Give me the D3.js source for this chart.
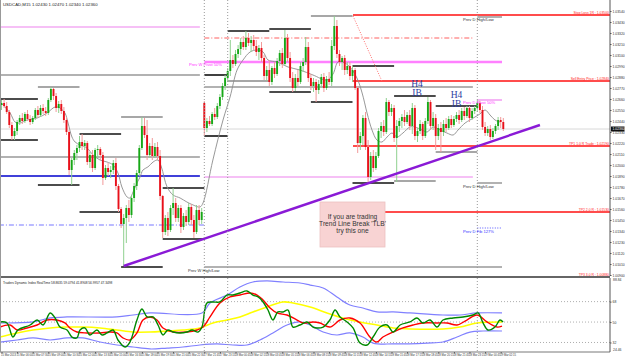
<!DOCTYPE html>
<html><head><meta charset="utf-8">
<script src="https://cdn.jsdelivr.net/npm/d3@7"></script>
<style>html,body{margin:0;padding:0;background:#fff;overflow:hidden}text{font-family:"Liberation Sans",Arial,sans-serif}</style>
</head><body><svg id="c" width="625" height="359"></svg>
<script>
// ---------- DATA ----------
const open=[1.0260,1.0262,1.0259,1.0253,1.0240,1.0229,1.0234,1.0243,1.0247,1.0244,1.0251,1.0246,1.0243,1.0247,1.0255,1.0250,1.0257,1.0254,1.0252,1.0265,1.0276,1.0269,1.0257,1.0261,1.0254,1.0245,1.0233,1.0195,1.0205,1.0212,1.0217,1.0223,1.0219,1.0222,1.0203,1.0210,1.0197,1.0215,1.0216,1.0210,1.0187,1.0197,1.0193,1.0195,1.0202,1.0179,1.0156,1.0141,1.0147,1.0157,1.0150,1.0167,1.0179,1.0192,1.0217,1.0239,1.0230,1.0210,1.0219,1.0209,1.0218,1.0209,1.0169,1.0133,1.0147,1.0135,1.0157,1.0162,1.0147,1.0157,1.0138,1.0149,1.0143,1.0158,1.0145,1.0133,1.0155,1.0145,1.0262,1.0237,1.0244,1.0241,1.0251,1.0248,1.0259,1.0268,1.0279,1.0287,1.0294,1.0305,1.0301,1.0311,1.0316,1.0323,1.0318,1.0327,1.0322,1.0325,1.0319,1.0313,1.0317,1.0307,1.0289,1.0295,1.0283,1.0297,1.0291,1.0304,1.0312,1.0301,1.0327,1.0307,1.0287,1.0277,1.0287,1.0283,1.0299,1.0303,1.0318,1.0287,1.0279,1.0283,1.0275,1.0281,1.0288,1.0277,1.0286,1.0283,1.0319,1.0339,1.0311,1.0303,1.0307,1.0295,1.0299,1.0289,1.0295,1.0277,1.0222,1.0229,1.0247,1.0218,1.0188,1.0209,1.0197,1.0209,1.0234,1.0239,1.0233,1.0263,1.0253,1.0257,1.0227,1.0239,1.0244,1.0248,1.0243,1.0250,1.0239,1.0257,1.0229,1.0234,1.0241,1.0229,1.0244,1.0263,1.0239,1.0247,1.0229,1.0237,1.0233,1.0241,1.0237,1.0246,1.0240,1.0246,1.0250,1.0245,1.0254,1.0249,1.0257,1.0247,1.0254,1.0257,1.0262,1.0255,1.0238,1.0232,1.0236,1.0228,1.0234,1.0239,1.0245,1.0243];
const high=[1.0265,1.0266,1.0263,1.0255,1.0243,1.0237,1.0245,1.0250,1.0252,1.0253,1.0255,1.0250,1.0249,1.0257,1.0259,1.0260,1.0261,1.0258,1.0267,1.0278,1.0277,1.0272,1.0264,1.0265,1.0258,1.0248,1.0235,1.0207,1.0215,1.0220,1.0229,1.0231,1.0225,1.0224,1.0213,1.0215,1.0217,1.0220,1.0218,1.0213,1.0200,1.0202,1.0199,1.0205,1.0207,1.0181,1.0158,1.0151,1.0160,1.0165,1.0170,1.0182,1.0195,1.0220,1.0248,1.0247,1.0245,1.0222,1.0227,1.0222,1.0223,1.0215,1.0170,1.0150,1.0153,1.0160,1.0177,1.0167,1.0160,1.0160,1.0152,1.0155,1.0162,1.0161,1.0150,1.0160,1.0160,1.0157,1.0264,1.0247,1.0249,1.0253,1.0257,1.0262,1.0271,1.0282,1.0290,1.0297,1.0325,1.0310,1.0315,1.0320,1.0327,1.0329,1.0334,1.0332,1.0329,1.0330,1.0325,1.0320,1.0323,1.0310,1.0299,1.0305,1.0299,1.0303,1.0307,1.0315,1.0317,1.0335,1.0331,1.0313,1.0293,1.0291,1.0295,1.0303,1.0307,1.0328,1.0323,1.0291,1.0287,1.0286,1.0285,1.0291,1.0292,1.0289,1.0293,1.0325,1.0349,1.0345,1.0315,1.0309,1.0310,1.0303,1.0303,1.0299,1.0297,1.0279,1.0233,1.0250,1.0253,1.0225,1.0213,1.0215,1.0213,1.0237,1.0243,1.0245,1.0267,1.0265,1.0261,1.0260,1.0245,1.0247,1.0251,1.0255,1.0253,1.0255,1.0262,1.0260,1.0237,1.0245,1.0243,1.0247,1.0268,1.0265,1.0253,1.0251,1.0241,1.0243,1.0245,1.0247,1.0249,1.0250,1.0249,1.0253,1.0255,1.0257,1.0258,1.0259,1.0259,1.0257,1.0259,1.0265,1.0264,1.0259,1.0243,1.0239,1.0240,1.0237,1.0241,1.0248,1.0248,1.0247];
const low=[1.0255,1.0257,1.0251,1.0237,1.0225,1.0225,1.0230,1.0240,1.0241,1.0242,1.0244,1.0240,1.0241,1.0245,1.0247,1.0248,1.0251,1.0249,1.0250,1.0263,1.0265,1.0253,1.0252,1.0251,1.0242,1.0230,1.0190,1.0180,1.0200,1.0205,1.0213,1.0215,1.0215,1.0200,1.0197,1.0193,1.0195,1.0207,1.0205,1.0180,1.0185,1.0189,1.0187,1.0191,1.0175,1.0153,1.0137,1.0099,1.0122,1.0143,1.0147,1.0163,1.0175,1.0189,1.0215,1.0227,1.0205,1.0207,1.0205,1.0207,1.0205,1.0165,1.0127,1.0130,1.0129,1.0133,1.0150,1.0143,1.0143,1.0132,1.0135,1.0139,1.0140,1.0140,1.0127,1.0131,1.0140,1.0141,1.0229,1.0233,1.0239,1.0239,1.0245,1.0246,1.0256,1.0265,1.0275,1.0283,1.0289,1.0297,1.0299,1.0307,1.0310,1.0315,1.0315,1.0319,1.0313,1.0315,1.0309,1.0305,1.0303,1.0285,1.0284,1.0279,1.0280,1.0287,1.0289,1.0299,1.0297,1.0299,1.0303,1.0283,1.0273,1.0274,1.0279,1.0281,1.0293,1.0300,1.0283,1.0275,1.0273,1.0263,1.0271,1.0277,1.0273,1.0275,1.0280,1.0279,1.0315,1.0307,1.0299,1.0295,1.0290,1.0291,1.0285,1.0283,1.0275,1.0212,1.0215,1.0220,1.0215,1.0182,1.0185,1.0193,1.0195,1.0207,1.0227,1.0229,1.0231,1.0249,1.0249,1.0223,1.0183,1.0233,1.0237,1.0239,1.0241,1.0235,1.0231,1.0225,1.0223,1.0231,1.0225,1.0227,1.0241,1.0235,1.0235,1.0215,1.0225,1.0213,1.0229,1.0233,1.0235,1.0237,1.0238,1.0243,1.0241,1.0243,1.0245,1.0247,1.0243,1.0245,1.0251,1.0253,1.0252,1.0235,1.0229,1.0229,1.0225,1.0226,1.0231,1.0235,1.0237,1.0234];
const close=[1.0262,1.0259,1.0253,1.0240,1.0229,1.0234,1.0243,1.0247,1.0244,1.0251,1.0246,1.0243,1.0247,1.0255,1.0250,1.0257,1.0254,1.0252,1.0265,1.0276,1.0269,1.0257,1.0261,1.0254,1.0245,1.0233,1.0195,1.0205,1.0212,1.0217,1.0223,1.0219,1.0222,1.0203,1.0210,1.0197,1.0215,1.0216,1.0210,1.0187,1.0197,1.0193,1.0195,1.0202,1.0179,1.0156,1.0141,1.0147,1.0157,1.0150,1.0167,1.0179,1.0192,1.0217,1.0239,1.0230,1.0210,1.0219,1.0209,1.0218,1.0209,1.0169,1.0133,1.0147,1.0135,1.0157,1.0162,1.0147,1.0157,1.0138,1.0149,1.0143,1.0158,1.0145,1.0133,1.0155,1.0145,1.0153,1.0237,1.0244,1.0241,1.0251,1.0248,1.0259,1.0268,1.0279,1.0287,1.0294,1.0305,1.0301,1.0311,1.0316,1.0323,1.0318,1.0327,1.0322,1.0325,1.0319,1.0313,1.0317,1.0307,1.0289,1.0295,1.0283,1.0297,1.0291,1.0304,1.0312,1.0301,1.0327,1.0307,1.0287,1.0277,1.0287,1.0283,1.0299,1.0303,1.0318,1.0287,1.0279,1.0283,1.0275,1.0281,1.0288,1.0277,1.0286,1.0283,1.0319,1.0339,1.0311,1.0303,1.0307,1.0295,1.0299,1.0289,1.0295,1.0277,1.0222,1.0229,1.0247,1.0218,1.0188,1.0209,1.0197,1.0209,1.0234,1.0239,1.0233,1.0263,1.0253,1.0257,1.0227,1.0239,1.0244,1.0248,1.0243,1.0250,1.0239,1.0257,1.0229,1.0234,1.0241,1.0229,1.0244,1.0263,1.0239,1.0247,1.0229,1.0237,1.0233,1.0241,1.0237,1.0246,1.0240,1.0246,1.0250,1.0245,1.0254,1.0249,1.0257,1.0247,1.0254,1.0257,1.0262,1.0255,1.0238,1.0232,1.0236,1.0228,1.0234,1.0239,1.0245,1.0243,1.0236];

const maLine=[[-0.6,1.0263],[3.3,1.0252],[5.2,1.0243],[7.1,1.0242],[9.8,1.0245],[13.7,1.0247],[17.5,1.0252],[20.6,1.0258],[22.5,1.0257],[24.4,1.0252],[25.6,1.0242],[27.1,1.0228],[28.3,1.0223],[30.2,1.0220],[32.9,1.0217],[35.2,1.0210],[37.9,1.0205],[40.6,1.0203],[42.9,1.0200],[44.8,1.0192],[46.3,1.0178],[48.3,1.0168],[49.4,1.0167],[50.6,1.0173],[52.1,1.0182],[53.3,1.0188],[54.4,1.0195],[56.3,1.0198],[58.3,1.0203],[60.2,1.0205],[61.5,1.0198],[63.7,1.0178],[66,1.0170],[68.7,1.0167],[71.3,1.0163],[73.7,1.0160],[76.3,1.0158],[77.5,1.0162],[81.3,1.0205],[85.2,1.0245],[87.9,1.0268],[90.6,1.0295],[92.9,1.0305],[95.6,1.0313],[98.3,1.0315],[100.6,1.0313],[102.5,1.0305],[106,1.0303],[110.2,1.0298],[114.8,1.0295],[119.8,1.0290],[125.2,1.0285],[127.5,1.0291],[129.4,1.0303],[131.3,1.0303],[134,1.0298],[136.7,1.0287],[138.7,1.0272],[140.6,1.0252],[142.5,1.0235],[144.4,1.0225],[146.3,1.0223],[148.3,1.0228],[150.2,1.0232],[152.1,1.0228],[154.4,1.0232],[157.1,1.0238],[159,1.0238],[161.7,1.0235],[163.7,1.0233],[166,1.0238],[168.7,1.0235],[171.3,1.0232],[173.7,1.0230],[175.6,1.0235],[178.3,1.0242],[180.2,1.0245],[182.1,1.0248],[184,1.0251],[186,1.0255],[187.9,1.0250],[189.8,1.0245],[191.7,1.0243]];

const trendLine=[[47,1.0099],[207.1,1.0240]];

// H4 block ranges (bar index) and their high / low levels
const h4Start=[-2,14,30,46,62,78,87,103,119,135,151,167];
const h4End=[14,30,46,62,78,87,103,119,135,151,167,183];
const h4High=[1.0266,1.0278,1.0231,1.0248,1.0177,1.0290,1.0334,1.0336,1.0349,1.0299,1.0269,1.0259];
const h4Low=[1.0225,1.0180,1.0153,1.0098,1.0126,1.0229,1.0284,1.0273,1.0263,1.0182,1.0184,1.0213];

// reference levels: price, from bar, to bar, kind
const levelPrice=[1.0338,1.0290,1.0208,1.0189,1.0140,1.0327,1.0278,1.0188,1.0303,1.0098,1.0348,1.0265,1.0182,1.0137];
const levelFrom=[-1,-1,-1,-1,-1,78,78,78,78,78,183,183,183,183];
const levelTo=[76.3,76.3,76.3,76.3,78,181.3,181.3,181.3,192.5,192.5,192.5,192.5,192.5,192.5];
const levelKind=["pink","gray","gray","blue","blueDashDot","redDashDot","gray","pink","pinkThick","gray","gray","pink","gray","blueDot"];

// trade plan levels
const tradePrice=[1.0350,1.0284,1.0219,1.0153,1.0088];
const tradeLabel=["Stop Loss 1R : 1.03500","Sell Entry Price : 1.02840","TP1 1.0 R Trade : 1.02190","TP2 2.0 R : 1.01530","TP3 3.0 R : 1.00880"];
const tradeFrom=135.2;
const slPath=[[135.2,1.0349],[146.3,1.0284]];

const separators=[78,87,183];
const boxBars=[122.5,147.5], boxPrices=[1.0163,1.0118];
const boxText=["If you are trading","Trend Line Break 'TLB'","try this one"];

const noteText=["Prev W Pivot 50%","Prev W High/Low","Prev D High/Low","Prev D Pivot 50%","Prev D High/Low","Prev D Fib 127%"];
const noteBar=[72.1,71.7,177.5,177.5,177.5,177.5];
const notePrice=[1.0301,1.0095,1.0346,1.0263,1.0179,1.0134];
const noteKind=["pink","dark","dark","pink","dark","blue"];

const ibText=["H4","IB","H4","IB"];
const ibBar=[159.8,159.8,175,175];
const ibPrice=[1.0282,1.0273,1.0271,1.0262];

const priceTicks=[1.0354,1.0343,1.0332,1.0321,1.0310,1.0299,1.0288,1.0277,1.0266,1.0255,1.0244,1.0233,1.0222,1.0211,1.0200,1.0189,1.0178,1.0167,1.0156,1.0145,1.0134,1.0123,1.0112,1.0101,1.0090];
const timeBars=[0,6,12,18,24,30,36,42,48,54,60,66,72,78,84,90,96,102,108,114,120,126,132,138,144,150,156,162,168,174,180,186,192];
const timeLabels=["15 Mar 2013","15 Mar 06:00","15 Mar 07:30","15 Mar 09:00","15 Mar 10:30","15 Mar 12:00","15 Mar 13:30","15 Mar 15:00","15 Mar 16:30","15 Mar 18:00","15 Mar 19:30","15 Mar 21:00","15 Mar 22:30","17 Mar 21:45","17 Mar 23:15","18 Mar 00:45","18 Mar 02:15","18 Mar 03:45","18 Mar 05:15","18 Mar 06:45","18 Mar 08:15","18 Mar 09:45","18 Mar 11:15","18 Mar 12:45","18 Mar 14:15","18 Mar 15:45","18 Mar 17:15","18 Mar 18:45","18 Mar 20:15","18 Mar 21:45","18 Mar 23:15","19 Mar 00:45","19 Mar 02:15"];

// Traders Dynamic Index: [bar, value]
const tdiGreen=[[-0.6,50.1],[2.1,49.2],[4.4,36.8],[6.3,43.0],[11,47.4],[13.7,51.8],[16,47.4],[18.7,58.0],[20.6,53.6],[22.5,45.6],[25.2,43.0],[27.1,36.8],[29,36.0],[30.2,43.0],[32.1,44.8],[34,38.6],[36.7,43.0],[38.7,38.6],[40.6,40.4],[42.9,43.0],[44.8,34.2],[47.5,28.0],[49.4,32.4],[52.1,51.8],[54,61.5],[56,54.5],[58.3,54.5],[60.2,47.4],[62.1,38.6],[64,43.0],[66,41.2],[68.7,40.4],[71.3,41.2],[73.3,43.0],[75.6,41.2],[77.1,45.6],[79,66.8],[81.3,67.7],[84,67.7],[86.7,73.8],[89,73.8],[91.7,75.6],[94.4,77.4],[96.7,73.8],[98.7,72.1],[100.6,67.7],[102.5,60.6],[104.4,51.8],[106.3,58.9],[108.3,58.9],[110.2,60.6],[112.1,45.6],[114.8,47.4],[117.5,50.1],[119.8,45.6],[121.3,44.8],[123.7,45.6],[126.3,51.8],[128.3,60.6],[130.2,54.5],[132.9,50.1],[135.2,44.8],[137.9,31.5],[140.6,29.8],[142.9,36.8],[145.6,45.6],[148.3,47.4],[150.6,41.2],[153.3,47.4],[157.1,50.1],[159.8,53.6],[162.1,49.2],[164.8,51.8],[167.5,45.6],[169.8,51.8],[173.7,53.6],[177.5,54.5],[181.3,56.2],[183.3,58.0],[185.2,49.2],[187.1,43.0],[189.8,45.6],[191.7,51.8],[192.9,50.1]];
const tdiRed=[[-0.6,45.6],[3.3,47.4],[6,43.0],[9.8,44.8],[13.7,47.4],[17.5,51.8],[21.3,51.8],[24.4,49.2],[26.3,44.8],[29,41.2],[32.9,40.4],[37.9,40.4],[41.7,41.2],[44.4,40.4],[46.7,36.0],[49.4,34.2],[52.1,40.4],[54.4,51.8],[57.1,54.5],[59.8,51.8],[62.1,44.8],[66,41.2],[71.3,41.2],[75.2,43.0],[77.5,45.6],[80.2,54.5],[84,66.8],[87.9,72.1],[91.7,73.8],[95.6,75.6],[98.3,73.8],[100.6,69.4],[103.3,62.4],[106,58.0],[109.8,56.2],[113.7,51.8],[116,49.2],[119.8,50.1],[122.5,49.2],[126.3,45.6],[130.2,51.8],[134,53.6],[137.9,49.2],[141.7,36.8],[144.4,32.4],[146.7,36.8],[150.6,41.2],[154.4,44.8],[158.3,47.4],[162.1,49.2],[167.5,49.2],[171.3,49.2],[175.2,47.4],[179,51.8],[182.9,56.2],[186.7,50.1],[190.6,45.6],[192.5,46.5]];
const tdiYellow=[[-0.6,36.8],[6,40.4],[12.1,43.0],[18.7,44.8],[25.2,45.6],[31.3,45.6],[37.9,44.8],[44.4,43.0],[50.6,41.2],[57.1,41.2],[63.7,42.1],[69.8,43.0],[76.3,44.8],[81.3,49.2],[86.7,51.8],[91.7,54.5],[96.7,58.9],[102.1,63.3],[108.3,67.7],[112.1,66.8],[118.7,63.3],[125.2,58.0],[131.3,53.6],[137.9,50.1],[144.4,47.4],[150.6,44.8],[157.1,43.9],[169.8,43.9],[176.3,45.6],[182.9,49.2],[192.5,50.1]];
const tdiUpper=[[-0.6,49.2],[12.1,50.1],[18.7,53.6],[25.2,54.5],[44.4,54.5],[50.6,56.2],[57.1,58.0],[77.1,58.0],[80.2,66.8],[86.7,73.8],[91.7,80.9],[96.7,85.3],[102.1,86.2],[108.3,85.3],[114.8,84.4],[118.7,82.6],[123.7,80.0],[129,72.1],[134,65.0],[139,62.4],[144.4,58.9],[150.6,58.9],[157.1,58.0],[169.8,56.2],[176.3,56.2],[182.9,58.0],[192.5,58.0]];
const tdiLower=[[-0.6,32.4],[6,34.2],[12.1,36.0],[18.7,34.2],[25.2,36.0],[31.3,36.0],[37.9,32.4],[44.4,29.8],[50.6,28.0],[57.1,26.3],[63.7,27.1],[69.8,28.0],[76.3,29.8],[82.9,30.7],[89,29.8],[94.4,29.8],[99.4,34.2],[104.4,40.4],[109.8,47.4],[114.8,50.1],[118.7,47.4],[123.7,41.2],[129,38.6],[134,40.4],[139,36.8],[142.9,31.5],[150.6,30.7],[163.7,31.5],[169.8,32.4],[175.2,36.8],[180.2,41.2],[185.2,42.1],[192.5,42.1]];
const tdiLevels=[68,50,32];
const tdiRangeLabels=["88.84","24.46"];
const tdiRangeVals=[87.0,25.3];

// ---------- DRAW ----------
const svg=d3.select("#c");
const plotR=610, mainBot=276, indTop=278, indBot=352;
const x=d3.scaleLinear().domain([0,1]).range([1.5,4.1]);
const y=d3.scaleLinear().domain([1.0365,1.0091]).range([0,274]);
const yi=d3.scaleLinear().domain([24.5,88.8]).range([351,278]);

svg.append("rect").attr("width",625).attr("height",359).attr("fill","#fff");
const defs=svg.append("defs");
defs.append("clipPath").attr("id","cm").append("rect").attr("x",0).attr("y",0).attr("width",plotR).attr("height",mainBot);
defs.append("clipPath").attr("id","ci").append("rect").attr("x",0).attr("y",indTop).attr("width",plotR).attr("height",indBot-indTop);

const gm=svg.append("g").attr("clip-path","url(#cm)");
const gi=svg.append("g").attr("clip-path","url(#ci)");

// separators
separators.forEach(b=>{
  [[0,mainBot],[indTop,indBot]].forEach(r=>{
    svg.append("line").attr("x1",x(b)).attr("x2",x(b)).attr("y1",r[0]).attr("y2",r[1])
      .attr("stroke","#999").attr("stroke-width",1).attr("stroke-dasharray","1,2");
  });
});

const kindStyle={
  pink:{c:"#ee82ee",w:1.2,d:null},
  pinkThick:{c:"#ff80ff",w:2.5,d:null},
  gray:{c:"#999",w:1.5,d:null},
  blue:{c:"#0000cc",w:1.5,d:null},
  blueDashDot:{c:"#7777ff",w:1,d:"5,2,1,2"},
  blueDot:{c:"#5555ff",w:1,d:"1,1.5"},
  redDashDot:{c:"#ff6060",w:1,d:"5,2,1,2"}
};
// bid line
gm.append("line").attr("x1",0).attr("x2",plotR).attr("y1",y(close[close.length-1])).attr("y2",y(close[close.length-1]))
  .attr("stroke","#d8d8d8").attr("stroke-width",1);

levelPrice.forEach((p,i)=>{
  const s=kindStyle[levelKind[i]];
  gm.append("line").attr("x1",x(levelFrom[i])).attr("x2",x(levelTo[i])).attr("y1",y(p)).attr("y2",y(p))
    .attr("stroke",s.c).attr("stroke-width",s.w).attr("stroke-dasharray",s.d);
});

// H4 lines
const grayHigh=[1,3,8], grayLow=[6,10,11];
h4Start.forEach((s,i)=>{
  gm.append("line").attr("x1",x(s)).attr("x2",x(h4End[i])).attr("y1",y(h4High[i])).attr("y2",y(h4High[i]))
    .attr("stroke",grayHigh.includes(i)?"#8a8a8a":"#111").attr("stroke-width",1.6);
  gm.append("line").attr("x1",x(s)).attr("x2",x(h4End[i])).attr("y1",y(h4Low[i])).attr("y2",y(h4Low[i]))
    .attr("stroke",grayLow.includes(i)?"#8a8a8a":"#111").attr("stroke-width",1.6);
});

// trade levels
tradePrice.forEach(p=>{
  gm.append("line").attr("x1",x(tradeFrom)).attr("x2",plotR).attr("y1",y(p)).attr("y2",y(p))
    .attr("stroke","#ff1010").attr("stroke-width",1.3);
});
gm.append("path").attr("d",d3.line().x(d=>x(d[0])).y(d=>y(d[1]))(slPath))
  .attr("fill","none").attr("stroke","#ff7070").attr("stroke-width",1).attr("stroke-dasharray","1,1.5");

// note box
gm.append("rect").attr("x",x(boxBars[0])).attr("y",y(boxPrices[0]))
  .attr("width",x(boxBars[1])-x(boxBars[0])).attr("height",y(boxPrices[1])-y(boxPrices[0]))
  .attr("fill","#f8d3d3").attr("stroke","#ecc0c0").attr("stroke-width",0.8);
boxText.forEach((t,i)=>{
  gm.append("text").attr("x",(x(boxBars[0])+x(boxBars[1]))/2).attr("y",y(boxPrices[0])+17+i*7.2)
    .attr("text-anchor","middle").attr("font-size",6.6).attr("fill","#333").text(t);
});

// MA
gm.append("path").attr("d",d3.line().curve(d3.curveCatmullRom).x(d=>x(d[0])).y(d=>y(d[1]))(maLine))
  .attr("fill","none").attr("stroke","#8c8c8c").attr("stroke-width",0.9);

// candles
const bars=gm.append("g");
open.forEach((o,i)=>{
  const c=close[i], up=c>=o;
  bars.append("line").attr("x1",x(i)).attr("x2",x(i)).attr("y1",y(high[i])).attr("y2",y(low[i]))
    .attr("stroke",up?"#8fd08f":"#f29a9a").attr("stroke-width",1);
  const top=y(Math.max(o,c)), h=Math.max(1,Math.abs(y(o)-y(c)));
  bars.append("rect").attr("x",x(i)-0.95).attr("y",top).attr("width",1.9).attr("height",h)
    .attr("fill",up?"#17a817":"#e8101a");
});

// trend line
gm.append("path").attr("d",d3.line().x(d=>x(d[0])).y(d=>y(d[1]))(trendLine))
  .attr("fill","none").attr("stroke","#8a1ad6").attr("stroke-width",2.4);

// notes
const noteCol={pink:"#ff33ff",dark:"#333",blue:"#3333ff"};
noteText.forEach((t,i)=>{
  svg.append("text").attr("x",x(noteBar[i])).attr("y",y(notePrice[i])+1.8).attr("font-size",4.1)
    .attr("fill",noteCol[noteKind[i]]).text(t);
});
ibText.forEach((t,i)=>{
  gm.append("text").attr("x",x(ibBar[i])).attr("y",y(ibPrice[i])+3.5).attr("text-anchor","middle")
    .style("font-family","'Liberation Serif','Times New Roman',serif")
    .attr("font-size",9.5).attr("fill","#2b3da0").text(t);
});
tradePrice.forEach((p,i)=>{
  svg.append("text").attr("x",plotR-1).attr("y",y(p)-0.6).attr("text-anchor","end").attr("font-size",3.4)
    .attr("fill","#ff2020").text(tradeLabel[i]);
});

// titles
svg.append("text").attr("x",3).attr("y",6).attr("font-size",4.3).attr("fill","#222")
  .text("USDCAD,M15  1.02430 1.02470 1.02340 1.02360");
svg.append("text").attr("x",3).attr("y",283.5).attr("font-size",3.2).attr("fill","#222")
  .text("Traders Dynamic Index RealTime 58.8635 59.0794 41.8908 56.9957 47.3498");

// indicator pane
tdiLevels.forEach(v=>{
  gi.append("line").attr("x1",0).attr("x2",plotR).attr("y1",yi(v)).attr("y2",yi(v))
    .attr("stroke","#999").attr("stroke-width",0.8).attr("stroke-dasharray","1,2");
});
const li=d3.line().curve(d3.curveCatmullRom).x(d=>x(d[0])).y(d=>yi(d[1]));
[[tdiUpper,"#8080ff",1.2],[tdiLower,"#8080ff",1.2],[tdiYellow,"#ffff00",1.6],[tdiRed,"#ff0000",1.4],[tdiGreen,"#008800",1.4]].forEach(s=>{
  gi.append("path").attr("d",li(s[0])).attr("fill","none").attr("stroke",s[1]).attr("stroke-width",s[2]);
});

// frames
svg.append("line").attr("x1",0).attr("x2",plotR).attr("y1",277).attr("y2",277).attr("stroke","#333").attr("stroke-width",1.6);
svg.append("line").attr("x1",0).attr("x2",plotR).attr("y1",indBot).attr("y2",indBot).attr("stroke","#555").attr("stroke-width",0.8);
svg.append("line").attr("x1",0.5).attr("x2",0.5).attr("y1",0).attr("y2",indBot).attr("stroke","#999").attr("stroke-width",1);

// price axis
const ay=svg.append("g").attr("transform",`translate(${plotR},0)`)
  .call(d3.axisRight(y).tickValues(priceTicks).tickFormat(d3.format(".5f")).tickSize(1.5).tickPadding(1));
ay.select(".domain").attr("stroke","#555").attr("d",`M0,0V${mainBot}`);
ay.selectAll("text").attr("font-size",3.4).attr("fill","#333");
ay.selectAll("line").attr("stroke","#555");
// current price box
const last=close[close.length-1];
svg.append("rect").attr("x",plotR+1).attr("y",y(last)-2.5).attr("width",13.5).attr("height",5).attr("fill","#111");
svg.append("text").attr("x",plotR+2.5).attr("y",y(last)+1.3).attr("font-size",3.4).attr("fill","#fff").text(d3.format(".5f")(last));

// indicator axis
const ai=svg.append("g").attr("transform",`translate(${plotR},0)`)
  .call(d3.axisRight(yi).tickValues(tdiLevels).tickFormat(d3.format("d")).tickSize(1.5).tickPadding(1));
ai.select(".domain").attr("stroke","#555").attr("d",`M0,${indTop}V${indBot}`);
ai.selectAll("text").attr("font-size",3.4).attr("fill","#333");
ai.selectAll("line").attr("stroke","#555");
tdiRangeVals.forEach((v,i)=>{
  svg.append("text").attr("x",plotR+3).attr("y",yi(v)+1.3).attr("font-size",3.4).attr("fill","#333").text(tdiRangeLabels[i]);
});

// time axis
const ax=svg.append("g").attr("transform",`translate(0,${indBot})`)
  .call(d3.axisBottom(x).tickValues(timeBars).tickFormat((d,i)=>timeLabels[i]).tickSize(1.5).tickPadding(1));
ax.select(".domain").remove();
ax.selectAll("text").attr("font-size",2.7).attr("fill","#333").attr("text-anchor","start").attr("dx",-1);
ax.selectAll("line").attr("stroke","#555");
</script></body></html>
